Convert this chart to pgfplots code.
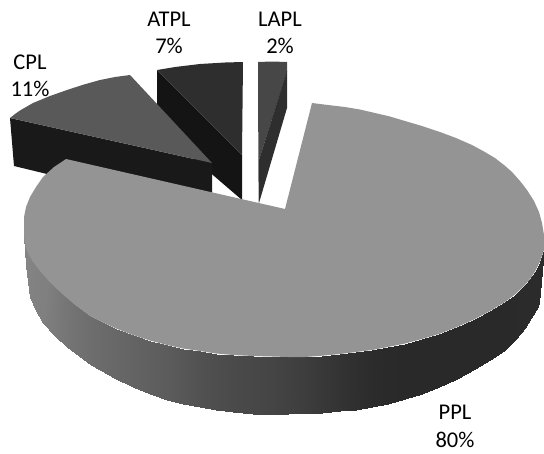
\documentclass[border=0pt]{standalone}
\usepackage{pgfplots}
\pgfplotsset{compat=1.18}
\usepackage{fontspec}
\setmainfont{Carlito}
\begin{document}
\begin{tikzpicture}
\path[use as bounding box] (0,0) rectangle (544pt,453pt);
\begin{axis}[
  at={(0,0)}, anchor=south west,
  scale only axis, width=544pt, height=453pt,
  xmin=0, xmax=544, ymin=0, ymax=453, y dir=reverse,
  hide axis, no markers,
  colormap={wall}{gray(0cm)=(0); gray(1cm)=(1)},
  point meta min=0, point meta max=1,
]
% LAPL wedge: top face, then its side wall
\addplot[fill=black!72, draw=none] coordinates {(258,62)(272,61.5)(287,62)(287,72)(259,160)(258.5,203)} --cycle;
\addplot[fill=black!82, draw=none] coordinates {(287,71)(287,108)(259,203)(259,160)} --cycle;
% ATPL wedge: side wall, then top face
\addplot[fill=black!92, draw=none] coordinates {(157,70)(242,155)(242,200)(157,127)} --cycle;
\addplot[fill=black!82, draw=none] coordinates {(157,70)(175,67)(200,64)(225,62.5)(243,62)(242,155)} --cycle;
% CPL wedge: front wall, then top face
\addplot[fill=black!90, draw=none] coordinates {(10,118)(212,163)(212,193)(47,174)(14,166)} --cycle;
\addplot[fill=black!65, draw=none] coordinates {(10,118)(15,114)(20,110.5)(33,103)(50,96)(67,90)(84,84.5)(100,80)(115,77)(130,75)(212,163)} --cycle;
% PPL wedge: curved wall with its light falloff (upper rim, then lower rim)
\addplot[surf, shader=interp, mesh/rows=2, point meta=explicit] table[meta=c] {
x y c
24 235 .52
26 248 .52
29 255 .52
33 262 .51
40 271 .505
48 280 .50
57 289 .48
67 298 .46
74 304 .45
82 310 .44
90 316 .43
100 321 .42
116 328.5 .405
133 335 .39
150 340.5 .375
167 345 .36
183 348.5 .34
200 351 .32
216 353.5 .305
233 355 .29
253 356 .28
272 356.5 .27
288 357 .255
305 357 .24
322 355.7 .22
340 354 .20
356 352 .185
372 350 .17
388 347 .165
405 343.5 .16
422 339 .16
439 334 .16
457 327 .16
475 319 .16
490 311 .16
505 302 .16
515 294.5 .165
525 285 .17
530 279 .17
535 271.5 .17
540 261.5 .17
544 250 .17
24 236 .52
26 265 .52
28 282 .52
30 297 .51
36 311 .505
43 323 .50
55 336 .48
67 347 .46
75 353 .45
83 359 .44
91 365 .43
100 370 .42
116 379 .405
133 387 .39
150 394 .375
167 400 .36
183 404 .34
200 407 .32
216 410 .305
233 412 .29
253 413.5 .28
272 414 .27
288 414 .255
305 413 .24
322 412.5 .22
340 411 .20
356 409.5 .185
372 407 .17
388 403.5 .165
405 399 .16
422 393.5 .16
439 387 .16
457 378.5 .16
475 369 .16
490 360 .16
505 350 .16
515 340 .165
525 328 .17
531 318 .17
536 310 .17
538 306 .17
539 303 .17
};
% PPL wedge: top face
\addplot[fill=black!42, draw=none] coordinates {
(285,209)(312,103)(328,105)(345,107)(360,109.5)(375,113)(390,116.5)(405,121)(422,126)(440,132)
(456,138)(472,145)(484,151.5)(495,158)(504,165)(512,172)(520,181)(527,190)(534,201)(539,212)
(542,223)(544,235)(544,250)(540,261.5)(535,271.5)(530,279)(525,285)(515,294.5)(505,302)(490,311)
(475,319)(457,327)(439,334)(422,339)(405,343.5)(388,347)(372,350)(356,352)(340,354)(322,355.7)
(305,357)(288,357)(272,356.5)(253,356)(233,355)(216,353.5)(200,351)(183,348.5)(167,345)(150,340.5)
(133,335)(116,328.5)(100,321)(90,316)(82,310)(74,304)(67,298)(57,289)(48,280)(40,271)(33,262)
(29,255)(26,248)(24.5,241)(24,235)(24,226)(24,217)(26,207)(30,197)(36,187)(43,177)(54,167)(66,159)
} --cycle;
% Category labels
\node[font=\fontsize{22.5}{27.5}\selectfont, align=center, inner sep=0pt] at (axis cs:169,33) {ATPL\\7\%};
\node[font=\fontsize{22.5}{27.5}\selectfont, align=center, inner sep=0pt] at (axis cs:280,33) {LAPL\\2\%};
\node[font=\fontsize{22.5}{27.5}\selectfont, align=center, inner sep=0pt] at (axis cs:30,76) {CPL\\11\%};
\node[font=\fontsize{22.5}{27.5}\selectfont, align=center, inner sep=0pt] at (axis cs:455,426.5) {PPL\\80\%};
\end{axis}
\end{tikzpicture}
\end{document}
